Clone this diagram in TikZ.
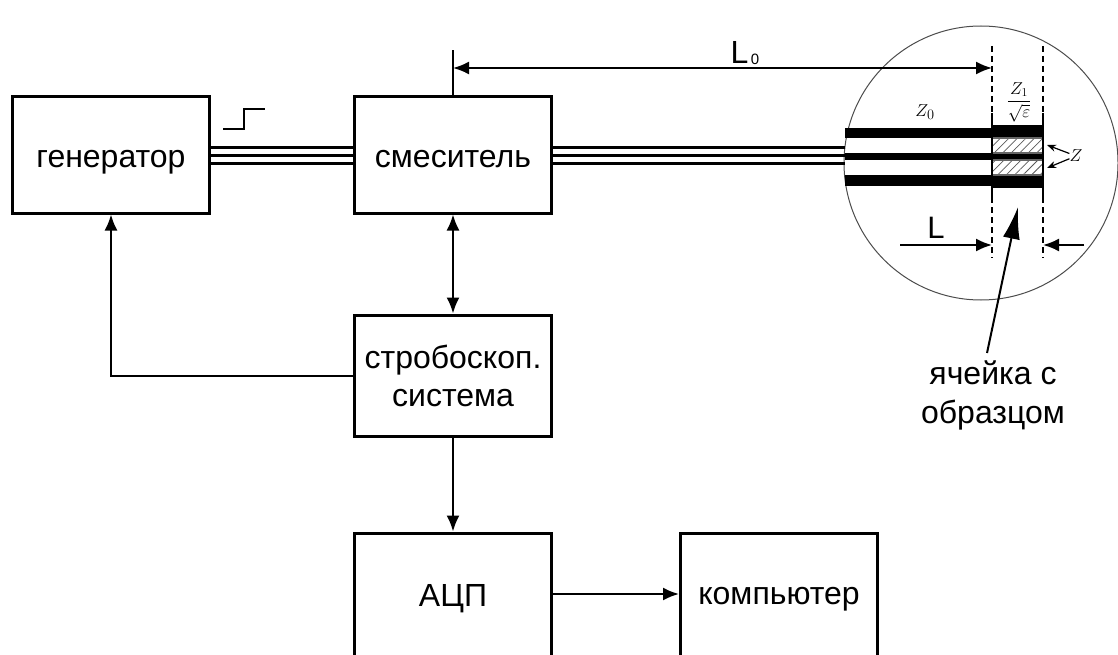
\documentclass[tikz,border=0pt]{standalone}
\usepackage{fontspec}
\usepackage{amsmath}
\setmainfont{Liberation Sans}
\usetikzlibrary{positioning, arrows.meta, patterns.meta}
\tikzset{
    blok/.style={draw, line width=3pt, minimum width=197pt, inner sep=0pt, font=\fontsize{32}{38}\selectfont, align=center},
    strelka/.style={line width=2pt, -{Latex[length=16pt,width=13pt]}},
    dvestrelki/.style={line width=2pt, {Latex[length=16pt,width=13pt]}-{Latex[length=16pt,width=13pt]}},
    liniya/.style={line width=3pt},
    shtrih/.style={line width=2pt, dash pattern=on 6pt off 4pt},
    polosa/.style={fill=black, draw=none},
    shtrihovka/.style={draw=black!60, line width=1.2pt, pattern={Lines[angle=45,distance=6pt,line width=0.8pt]}, pattern color=black!65},
    malaya/.style={font=\fontsize{19}{21}\selectfont, inner sep=0pt},
}
\begin{document}
\begin{tikzpicture}[x=1pt,y=-1pt]
    \useasboundingbox (0,0) rectangle (1118,655);
    \node[blok, minimum height=116pt] (gen) at (111,155) {\rule[-8pt]{0pt}{41pt}генератор};
    \node[blok, minimum height=116pt] (mix) at (453,155) {\rule[-8pt]{0pt}{41pt}смеситель};
    \node[blok, minimum height=121pt] (strob) at (453,375.5) {стробоскоп.\\система};
    \node[blok, minimum height=132pt] (adc) at (453,599) {АЦП};
    \node[blok, minimum height=132pt] (comp) at (779,599) {компьютер};

    % lupa
    \node[circle, draw=black!70, line width=1pt, minimum size=274pt, inner sep=0pt] (lupa) at (981,163) {};
    \fill[polosa] (845,128) rectangle (992,138);
    \fill[polosa] (845,153) rectangle (992,160);
    \fill[polosa] (845,175) rectangle (992,186);
    \fill[polosa] (992,125) rectangle (1043,138);
    \fill[polosa] (992,153) rectangle (1043,160);
    \fill[polosa] (992,175) rectangle (1043,188);
    \draw[shtrihovka] (992,138) rectangle (1043,153);
    \draw[shtrihovka] (992,160) rectangle (1043,175);

    \coordinate (a1) at (992,46);
    \coordinate (a2) at (992,113);
    \coordinate (a3) at (992,197);
    \coordinate (a4) at (992,258);
    \coordinate (b1) at (1043,46);
    \coordinate (b2) at (1043,113);
    \coordinate (b3) at (1043,197);
    \coordinate (b4) at (1043,258);
    \draw[shtrih] (a1) -- (a2);
    \draw[shtrih] (a3) -- (a4);
    \draw[shtrih] (b1) -- (b2);
    \draw[shtrih] (b3) -- (b4);
    \draw[line width=2pt] (a2) -- (a3);
    \draw[line width=2pt] (b2) -- (b3);

    % trojnye linii
    \foreach \y in {148,156,164} {
        \draw[liniya] (211,\y) -- (353,\y);
        \draw[liniya] (552,\y) -- (845,\y);
    }

    % stupenka
    \coordinate (s1) at (223,129);
    \coordinate (s2) at (265,109);
    \draw[line width=2pt] (s1) -- (244,129) -- (244,109) -- (s2);

    % strelki
    \draw[dvestrelki] (mix.south) -- (strob.north);
    \draw[strelka] (strob.south) -- (adc.north);
    \draw[strelka] ([yshift=5pt]adc.east) -- ([yshift=5pt]comp.west);
    \draw[strelka] (strob.west) -| (gen.south);

    \coordinate (t1) at (453,50);
    \coordinate (t2) at (453,68);
    \coordinate (t3) at (992,68);
    \draw[line width=2pt] (mix.north) -- (t1);
    \draw[dvestrelki] (t2) -- (t3);
    \node[font=\fontsize{32}{32}\selectfont, inner sep=0pt] (l0) at (745,53) {L\raisebox{-1pt}{\fontsize{15}{15}\selectfont\,0}};

    \coordinate (l1) at (900,245);
    \coordinate (l2) at (992,245);
    \coordinate (l3) at (1084,245);
    \coordinate (l4) at (1043,245);
    \draw[strelka] (l1) -- (l2);
    \draw[strelka] (l3) -- (l4);
    \node[font=\fontsize{31}{31}\selectfont, inner sep=0pt] (ldl) at (936,228) {L};

    \node[malaya] (z0) at (925,112) {$Z_0$};
    \node[font=\fontsize{17}{19}\selectfont, inner sep=0pt] (z1) at (1019,102) {$\dfrac{Z_1}{\sqrt{\varepsilon}}$};
    \node[malaya] (zz) at (1076,156) {$Z$};
    \coordinate (z2) at (1047,145);
    \coordinate (z3) at (1047,168);
    \draw[line width=1.2pt, -{Stealth[length=9pt,width=7pt]}] (zz) -- (z2);
    \draw[line width=1.2pt, -{Stealth[length=9pt,width=7pt]}] (zz) -- (z3);

    \node[font=\fontsize{32}{39}\selectfont, align=center, inner sep=0pt] (yach) at (993,395) {ячейка с\\образцом};
    \coordinate (y0) at (987,353);
    \coordinate (y1) at (1018,207);
    \draw[line width=2pt, -{Latex[length=32pt,width=17pt]}] (y0) -- (y1);
\end{tikzpicture}
\end{document}
